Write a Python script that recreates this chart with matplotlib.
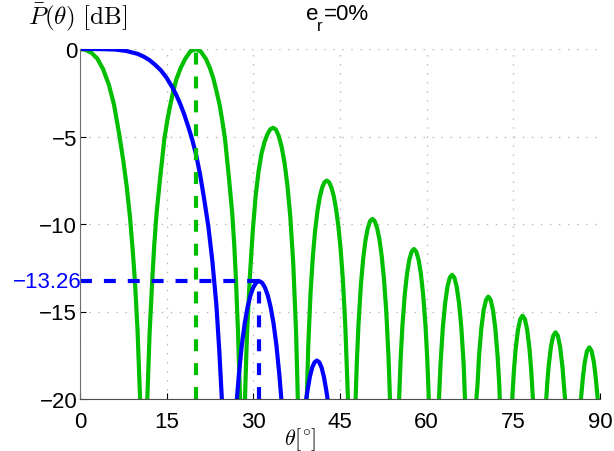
import matplotlib
matplotlib.use("Agg")
import matplotlib.pyplot as plt
import numpy as np

nan = np.nan

# steered array (green) - one lobe per row, lobes separated by nan
green_theta = [0, 1, 2, 3, 4, 5, 5.9, 6.8, 7.5, 8.1, 8.65, 9.1, 9.5, 9.95, 10.4, nan,
               11.65, 12.05, 12.5, 12.85, 13.25, 13.85, 14.6, 15.1, 15.6, 16.15, 16.7, 17.4, 18.2, 19.1, 20,
               20.9, 21.8, 22.5, 23.1, 23.65, 24.2, 24.65, 25.1, 25.8, 26.35, 26.7, 27.0, 27.35, 27.7, nan,
               28.55, 28.9, 29.4, 29.9, 30.4, 30.9, 31.4, 31.9, 32.4, 32.9, 33.4,
               33.9, 34.4, 34.9, 35.4, 35.9, 36.4, 36.9, 37.4, 37.7, nan,
               39.25, 39.5, 39.9, 40.3, 40.7, 41.1, 41.5, 41.9, 42.3, 42.7,
               43.1, 43.5, 43.9, 44.3, 44.7, 45.1, 45.5, 45.9, 46.3, 46.38, nan,
               47.7, 47.9, 48.2, 48.6, 49.0, 49.4, 49.8, 50.2, 50.6, 51.0, 51.4, 51.8, 52.2, 52.6, 53.0, 53.4, 53.65, nan,
               55.23, 55.5, 55.8, 56.2, 56.6, 57.0, 57.4, 57.8, 58.2, 58.6, 59.0, 59.4, 59.8, 60.1, 60.37, nan,
               62.13, 62.4, 62.8, 63.2, 63.6, 64.0, 64.4, 64.8, 65.2, 65.6, 66.0, 66.4, 66.63, nan,
               68.6, 68.8, 69.07, 69.47, 69.87, 70.27, 70.67, 71.07, 71.47, 71.87, 72.27, 72.57, 72.65, nan,
               74.81, 75.1, 75.4, 75.8, 76.2, 76.6, 77.0, 77.4, 77.8, 78.1, 78.39, nan,
               80.7, 80.85, 81.1, 81.5, 81.9, 82.3, 82.7, 83.1, 83.5, 83.75, 83.95, nan,
               86.7, 87.05, 87.35, 87.75, 88.15, 88.55, 88.95, 89.25, 89.6]
green_db = [0, -0.05, -0.22, -0.55, -1.15, -2.05, -3.2, -4.9, -6.4, -7.9, -9.6, -11.4, -13.24, -16, -20, nan,
            -20, -16.2, -13.24, -11.2, -9.4, -7.43, -5.14, -4.1, -3.24, -2.4, -1.71, -1.1, -0.57, -0.14, 0,
            -0.14, -0.57, -1.1, -1.71, -2.45, -3.24, -4.15, -5.14, -7.43, -9.4, -11.2, -13.24, -16.2, -20, nan,
            -20, -16.3, -13.0, -10.4, -8.4, -7.0, -6.0, -5.35, -4.9, -4.6, -4.5,
            -4.6, -4.97, -5.6, -6.5, -7.8, -9.6, -12.2, -16.2, -20, nan,
            -20, -17.0, -13.95, -11.86, -10.36, -9.26, -8.47, -7.93, -7.62, -7.52,
            -7.61, -7.9, -8.38, -9.1, -10.08, -11.4, -13.2, -15.68, -19.4, -20, nan,
            -20, -18.05, -15.73, -13.55, -12.02, -10.96, -10.25, -9.84, -9.71, -9.83, -10.2, -10.83, -11.77, -13.1, -14.95, -17.64, -20, nan,
            -20, -17.68, -15.83, -14.06, -12.84, -12.04, -11.58, -11.43, -11.58, -12.04, -12.84, -14.06, -15.83, -17.68, -20, nan,
            -20, -18.0, -15.91, -14.51, -13.59, -13.07, -12.9, -13.07, -13.59, -14.51, -15.91, -18.0, -20, nan,
            -20, -19.2, -17.51, -15.93, -14.91, -14.34, -14.15, -14.34, -14.91, -15.93, -17.51, -19.2, -20, nan,
            -20, -18.38, -17.15, -16.05, -15.44, -15.24, -15.44, -16.05, -17.15, -18.38, -20, nan,
            -20, -19.2, -18.17, -17.03, -16.39, -16.19, -16.39, -17.03, -18.17, -19.2, -20, nan,
            -20, -18.75, -17.92, -17.26, -17.05, -17.26, -17.92, -18.75, -20]

# broadside array (blue)
blue_theta = [0, 2, 4, 6, 8, 10, 11, 12, 13, 14, 15, 16, 16.7, 17.3, 18, 18.7, 19.4, 20.1, 20.8, 21.5, 22.2, 22.9, 23.6, 24.1, 24.55, nan,
              27.15, 27.5, 28.0, 28.5, 29.0, 29.5, 30.0, 30.5, 31.0, 31.5, 32.0, 32.5, 33.0, 33.5, 34.0, 34.5, 34.85, nan,
              39.15, 39.4, 39.8, 40.2, 40.6, 41.0, 41.4, 41.8, 42.2, 42.6, 42.85]
blue_db = [0, 0, -0.01, -0.03, -0.11, -0.28, -0.43, -0.63, -0.9, -1.22, -1.65, -2.2, -2.65, -3.1, -3.7, -4.4, -5.15, -6.05, -7.2, -8.6, -10.1, -12.1, -14.6, -17.2, -20, nan,
           -20, -18.61, -16.94, -15.69, -14.76, -14.08, -13.62, -13.35, -13.26, -13.35, -13.62, -14.08, -14.76, -15.69, -16.94, -18.61, -20, nan,
           -20, -19.46, -18.71, -18.19, -17.9, -17.8, -17.9, -18.19, -18.71, -19.46, -20]

steer_angle = 20
sll_theta = 31.0
sll_db = -13.26

xticks = [0, 15, 30, 45, 60, 75, 90]
yticks = [-20, -15, -10, -5, 0]

green = '#00bf00'
blue = '#0000ff'

plt.rcParams['lines.scale_dashes'] = False
plt.rcParams['font.family'] = ['Liberation Sans', 'DejaVu Sans']

fig = plt.figure(figsize=(6.14, 4.52), dpi=100)
ax = fig.add_axes([80/614, 52/452, 520/614, 350/452])

ax.plot(green_theta, green_db, color=green, lw=3, solid_joinstyle='round')
ax.plot(blue_theta, blue_db, color=blue, lw=3, solid_joinstyle='round')

# markers of the main beam / first sidelobe
ax.plot([steer_angle, steer_angle], [yticks[0], 0], color=green, lw=3, dashes=(8.6, 8.6))
ax.plot([0, sll_theta], [sll_db, sll_db], color=blue, lw=3, dashes=(8.6, 8.6))
ax.plot([sll_theta, sll_theta], [yticks[0], sll_db], color=blue, lw=3, dashes=(8.6, 8.6))
ax.text(0.3, sll_db, '\u221213.26', color=blue, fontsize=16, ha='right', va='center')

ax.set_xlim(0, 90)
ax.set_ylim(-20, 0)
ax.set_xticks(xticks)
ax.set_yticks(yticks)
ax.grid(True, linestyle=(0, (1, 5.5)), color='#b5b5b5', lw=0.9)
ax.set_axisbelow(True)

ax.spines[['top', 'right']].set_visible(False)
ax.spines['left'].set_color('#6e6e6e')
ax.spines['bottom'].set_color('#4d4d4d')
ax.tick_params(direction='in', length=4, width=0.8, labelsize=16)
ax.tick_params(axis='x', pad=9)
ax.tick_params(axis='y', pad=2)

fig.text(78/614, 1 - 17/452, r'$\bar{P}(\theta)\ [\mathrm{dB}]$', math_fontfamily='cm',
         fontsize=18, ha='center', va='center')
fig.text(300/614, 1 - 440/452, r'$\theta[^{\!\circ}\!]$', math_fontfamily='cm',
         fontsize=16, ha='center', va='center')

# title e_r=0% with a low subscript, as in the original
fig.text(306/614, 1 - 20/452, 'e', fontsize=16, va='baseline')
fig.text(317/614, 1 - 31/452, 'r', fontsize=12, va='baseline')
fig.text(324/614, 1 - 20/452, '=0%', fontsize=16, va='baseline')

fig.savefig('out.png', dpi=100)
